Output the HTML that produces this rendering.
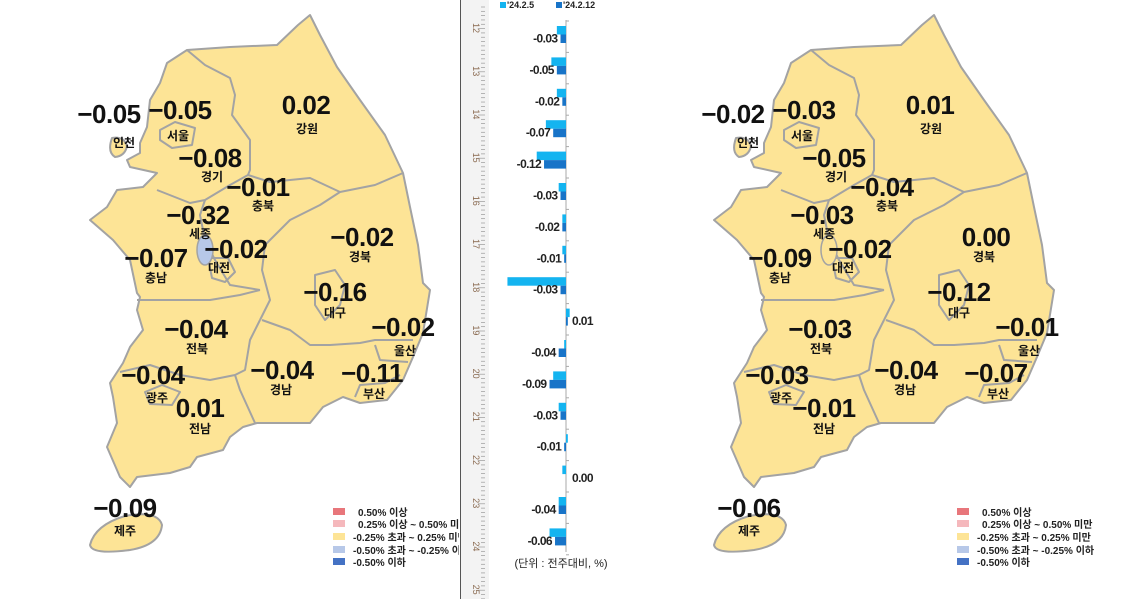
<!DOCTYPE html>
<html><head><meta charset="utf-8">
<style>
html,body{margin:0;padding:0;background:#fff;}
svg{display:block;font-family:"Liberation Sans","Noto Sans CJK KR",sans-serif;}
.v{font-weight:bold;font-size:26px;fill:#111;text-anchor:middle;letter-spacing:-0.5px;}
.n{font-weight:bold;font-size:12px;fill:#111;text-anchor:middle;font-family:"Noto Sans CJK KR","NanumGothic",sans-serif;}
.lg{font-size:10px;fill:#222;font-weight:bold;font-family:"Liberation Sans","Noto Sans CJK KR",sans-serif;}
.bl{font-size:12px;font-weight:bold;fill:#222;letter-spacing:-0.6px;}
</style></head>
<body>
<svg id="root" width="1134" height="599" viewBox="0 0 1134 599">
<defs><clipPath id="lc"><rect x="0" y="0" width="459" height="599"/></clipPath></defs>
<g id="mapL" clip-path="url(#lc)"></g>
<g id="mapR"></g>
<g id="chart"></g>
</svg>
<script>
const regions = ["서울","경기","인천","부산","대구","광주","대전","울산","세종","강원","충북","충남","전북","전남","경북","경남","제주"];
const prevWeek = [-0.05,-0.08,-0.05,-0.11,-0.16,-0.04,-0.02,-0.02,-0.32,0.02,-0.01,-0.07,-0.04,0.01,-0.02,-0.04,-0.09];
const thisWeek = [-0.03,-0.05,-0.02,-0.07,-0.12,-0.03,-0.02,-0.01,-0.03,0.01,-0.04,-0.09,-0.03,-0.01,0.00,-0.04,-0.06];
const rulerTicks = [12,13,14,15,16,17,18,19,20,21,22,23,24,25];
const legendLabels = ["0.50% 이상","0.25% 이상 ~ 0.50% 미만","-0.25% 초과 ~ 0.25% 미만","-0.50% 초과 ~ -0.25% 이하","-0.50% 이하"];
const legendColors = ["#e8767b","#f5b8bc","#fde496","#b7c8e8","#4472c4"];
const seriesNames = ["'24.2.5","'24.2.12"];

const NS="http://www.w3.org/2000/svg";
function mk(tag,attrs,parent){const e=document.createElementNS(NS,tag);for(const k in attrs)e.setAttribute(k,attrs[k]);parent.appendChild(e);return e;}
function fmt(v){return (v<0?"-":"")+Math.abs(v).toFixed(2);}
function fmtM(v){return (v<0?"\u2212":"")+Math.abs(v).toFixed(2);}
function col(v){if(v>=0.5)return legendColors[0];if(v>=0.25)return legendColors[1];if(v>-0.25)return legendColors[2];if(v>-0.5)return legendColors[3];return legendColors[4];}

const pos = {"인천":[109,114,124,143],"서울":[180,110,178,136],"경기":[210,158,212,177],"강원":[306,105,307,129],"충북":[258,187,263,206],"세종":[198,215,200,234],"대전":[236,249,219,268],"충남":[156,258,156,278],"경북":[362,237,360,257],"대구":[335,292,335,313],"울산":[403,327,405,351],"전북":[196,329,197,349],"광주":[153,375,157,398],"전남":[200,408,200,429],"경남":[282,370,281,390],"부산":[372,373,374,394],"제주":[125,508,125,531]};

function drawMap(g,vals){
  const st={fill:"#fde496",stroke:"#a3a3a3","stroke-width":"2","stroke-linejoin":"round"};
  let p=mk("path",Object.assign({d:"M167,63 L187,50 L230,47 L277,45 L298,25 L310,15 L320,35 L337,67 L360,100 L385,135 L403,173 L410,207 L418,245 L423,283 L430,290 L423,333 L413,357 L403,380 L387,400 L360,403 L343,397 L323,407 L310,423 L277,423 L257,423 L243,427 L230,437 L223,450 L197,457 L190,467 L170,473 L137,477 L130,487 L120,477 L107,447 L117,423 L113,397 L110,383 L123,363 L130,347 L143,330 L137,310 L140,297 L137,293 L130,260 L113,240 L90,220 L107,207 L117,190 L143,187 L157,173 L130,167 L127,160 L140,153 L140,143 L147,127 L150,100 L160,83 Z"},st),g);
  
  
  let inc=mk("path",Object.assign({d:"M112,138 Q124,136 127,146 Q125,156 115,157 Q107,152 112,138 Z"},st),g);
  
  
  let jj=mk("path",Object.assign({d:"M90,545 Q95,525 125,516 Q158,510 162,525 Q160,545 130,550 Q92,555 90,545 Z"},st),g);
  
  
  const borders=["M187,50 L205,65 L230,78 L235,95 L232,115 L250,140 L250,170 L248,175",
   "M248,175 L270,182 L310,178 L340,192 L375,185 L403,173",
   "M248,175 L230,185 L205,200 L190,203 L157,190",
   "M340,192 L320,205 L290,220 L265,245 L262,270 L270,300 L260,320",
   "M205,200 L200,215 L205,240 L215,260 L230,285 L260,290",
   "M137,300 L180,300 L210,300 L240,295 L260,290",
   "M120,372 L150,365 L180,375 L210,380 L235,375",
   "M260,320 L250,340 L245,370 L235,375 L240,390 L255,423",
   "M262,320 L290,330 L310,345 L330,345 L360,343 L375,340 L413,340",
   "M375,345 L380,360 L408,362",
   "M355,397 L360,385 L385,383 L400,375",
   "M160,130 L175,122 L195,128 L192,145 L172,148 L160,140 Z",
   "M145,392 L162,385 L180,392 L172,405 L150,404 Z",
   "M315,275 L335,270 L345,285 L340,305 L325,320 L315,305 Z",
   "M208,258 L228,258 L235,272 L225,282 L212,278 Z"];
  borders.forEach(d=>{const b=mk("path",{d:d,fill:"none",stroke:"#a3a3a3","stroke-width":"2","stroke-linejoin":"round"},g);
    
    });
  const sj=mk("ellipse",{cx:205,cy:250,rx:8,ry:15,fill:col(vals[8]),stroke:"#a3a3a3","stroke-width":"1.5"},g);
  
  
  regions.forEach((r,i)=>{const q=pos[r];
    const t=mk("text",{x:q[0],y:q[1]+9,"class":"v"},g);t.textContent=fmtM(vals[i]);
    
    
    const n=mk("text",{x:q[2],y:q[3]+4,"class":"n"},g);n.textContent=r;
    
    });
  legendLabels.forEach((l,i)=>{const y=[512,524,537,550,562][i];
    const s=mk("rect",{x:333,y:y-4,width:12,height:7,fill:legendColors[i]},g);
    
    
    const t=mk("text",{x:i<2?358:353,y:y+4,"class":"lg"},g);t.textContent=l;
    
    });
}
const gL=document.getElementById('mapL'),gR=document.getElementById('mapR');
const gLi=mk("g",{},gL);drawMap(gLi,prevWeek);
const gRi=mk("g",{transform:"translate(624,0)"},gR);drawMap(gRi,thisWeek);

const c=document.getElementById('chart');
const axisX=566, pxPer=183, top0=26, step=31.4, bh=8.5;
function xs(v){return axisX+v*pxPer;}
function ys(i){return top0+i*step;}
const strip=mk("rect",{x:461,y:0,width:28,height:599,fill:"#f3f3f3"},c);


const vl=mk("line",{x1:460.5,y1:0,x2:460.5,y2:599,stroke:"#555","stroke-width":"1"},c);


rulerTicks.forEach((t,i)=>{const y=28+i*43.2;
  const tx=mk("text",{x:473,y:y,"font-size":"9",fill:"#8a6a50","text-anchor":"middle",transform:`rotate(90 473 ${y})`},c);
  tx.textContent=t;
  
  
  for(let k=0;k<10;k++){const yy=y+k*4.32-21;
    const l=mk("line",{x1:k==5?478:481,y1:yy,x2:485,y2:yy,stroke:"#999","stroke-width":"0.7"},c);
    
    }
});
const ax=mk("line",{x1:axisX,y1:20,x2:axisX,y2:552,stroke:"#aaa","stroke-width":"1"},c);


for(let i=0;i<=regions.length;i++){const tk=mk("line",{x1:axisX,y1:ys(i)-5,x2:axisX+3,y2:ys(i)-5,stroke:"#aaa"},c);
  
  }
regions.forEach((r,i)=>{
  const a=prevWeek[i],b=thisWeek[i];
  const r1=mk("rect",{x:Math.min(xs(a),axisX),y:ys(i),width:Math.max(Math.abs(xs(a)-axisX),1.5),height:bh,fill:"#14b4f0"},c);
  
  
  const r2=mk("rect",{x:Math.min(xs(b),axisX),y:ys(i)+bh,width:Math.abs(xs(b)-axisX),height:bh,fill:"#1874c8"},c);
  
  
  const neg=b<0;
  const t=mk("text",{x:neg?xs(b)-3:572,y:ys(i)+bh+8,"class":"bl","text-anchor":neg?"end":"start"},c);
  t.textContent=fmt(b);
  
  
});
[[500,seriesNames[0],"#14b4f0"],[556,seriesNames[1],"#1874c8"]].forEach((s,i)=>{
  const q=mk("rect",{x:s[0],y:2,width:6,height:6,fill:s[2]},c);
  
  
  const t=mk("text",{x:s[0]+7,y:8,"font-size":"9","font-weight":"bold",fill:"#222"},c);t.textContent=s[1];
  
  
});
const u=mk("text",{x:561,y:567,"font-size":"11","text-anchor":"middle",fill:"#222","font-family":"Liberation Sans, Noto Sans CJK KR, sans-serif"},c);
u.textContent="(단위 : 전주대비, %)";


</script>
</body></html>
